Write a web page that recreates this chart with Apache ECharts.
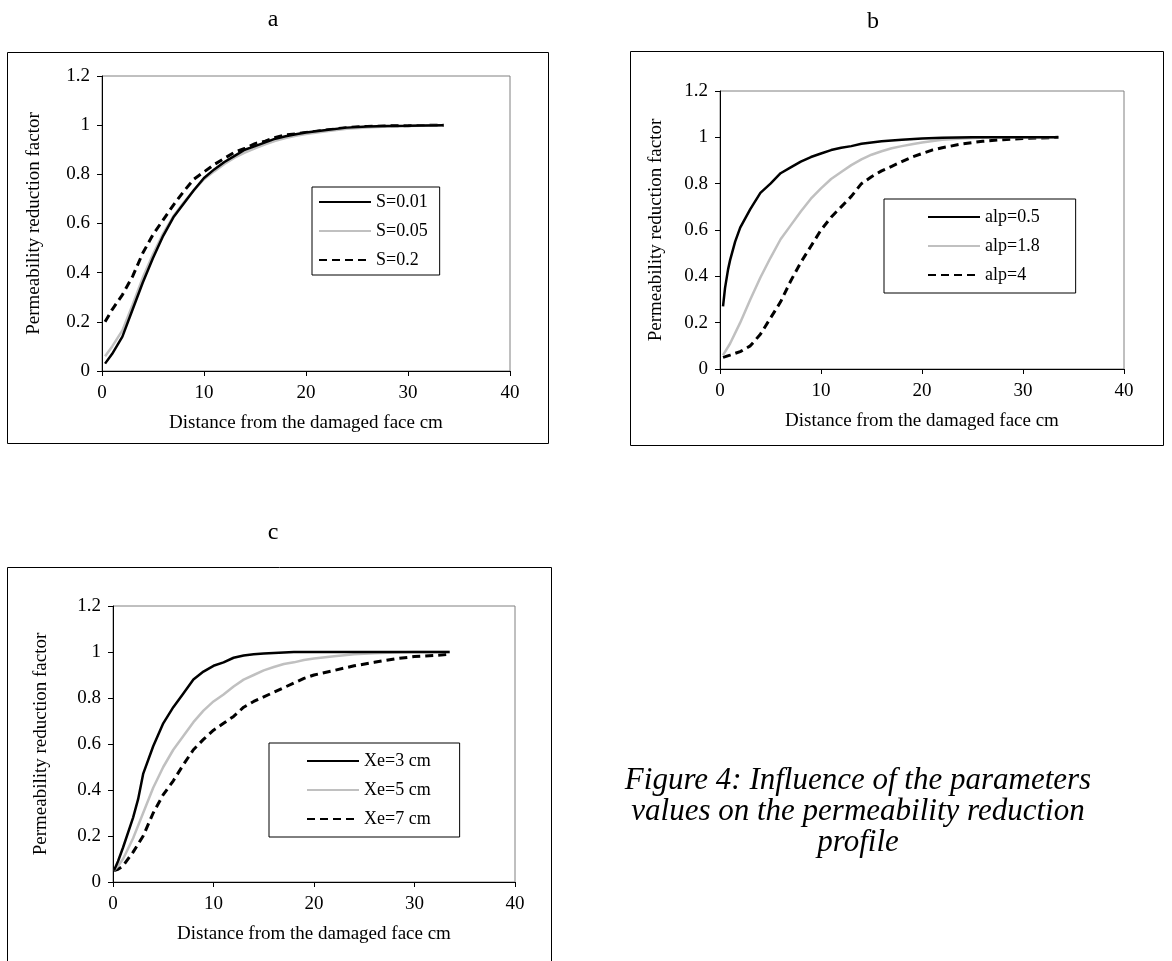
<!DOCTYPE html>
<html>
<head>
<meta charset="utf-8">
<script src="https://cdn.jsdelivr.net/npm/echarts@6/dist/echarts.min.js"></script>
<style>
  html, body { margin: 0; padding: 0; background: #ffffff; }
  #chart { width: 1172px; height: 961px; }
</style>
</head>
<body>
<div id="chart"></div>
<script>
// ---------- data ----------
const panelLetters = ['a', 'b', 'c'];
const xTitle = 'Distance from the damaged face cm';
const yTitle = 'Permeability reduction factor';
const caption = 'Figure 4: Influence of the parameters\nvalues on the permeability reduction\nprofile';

// panel a
const aNames = ['S=0.01', 'S=0.05', 'S=0.2'];
const aS001 = [[0.3,0.03],[1,0.07],[2,0.14],[3,0.25],[4,0.36],[5,0.46],[6,0.55],[7,0.625],[8,0.68],[9,0.735],[10,0.785],[11,0.82],[12,0.85],[13,0.875],[14,0.9],[15,0.915],[16,0.93],[17,0.945],[18,0.955],[19,0.963],[20,0.97],[22,0.98],[24,0.99],[26,0.995],[28,0.997],[30,0.998],[33.5,1.0]];
const aS005 = [[0.3,0.06],[1,0.1],[2,0.165],[3,0.27],[4,0.38],[5,0.475],[6,0.56],[7,0.63],[8,0.685],[9,0.735],[10,0.78],[11,0.812],[12,0.842],[13,0.868],[14,0.888],[15,0.906],[16,0.922],[17,0.936],[18,0.948],[19,0.957],[20,0.964],[22,0.975],[24,0.985],[26,0.99],[28,0.995],[30,0.997],[33.5,1.0]];
const aS02 = [[0.3,0.2],[1,0.25],[2,0.31],[3,0.385],[4,0.48],[5,0.555],[6,0.615],[7,0.675],[8,0.73],[9,0.78],[10,0.81],[11,0.84],[12,0.865],[13,0.89],[14,0.905],[15,0.925],[16,0.935],[17,0.95],[18,0.96],[19,0.965],[20,0.97],[22,0.98],[24,0.99],[26,0.995],[28,0.997],[30,0.998],[33.5,1.0]];

// panel b
const bNames = ['alp=0.5', 'alp=1.8', 'alp=4'];
const bAlp05 = [[0.3,0.27],[0.5,0.35],[0.8,0.43],[1,0.47],[1.5,0.55],[2,0.61],[3,0.69],[4,0.76],[5,0.8],[6,0.845],[7,0.87],[8,0.895],[9,0.915],[10,0.93],[11,0.945],[12,0.955],[13,0.962],[14,0.972],[15,0.978],[16,0.983],[18,0.99],[20,0.995],[22,0.998],[25,1.0],[30,1.0],[33.5,1.0]];
const bAlp18 = [[0.3,0.06],[1,0.11],[2,0.2],[3,0.3],[4,0.395],[5,0.48],[6,0.56],[7,0.62],[8,0.68],[9,0.735],[10,0.78],[11,0.82],[12,0.85],[13,0.88],[14,0.905],[15,0.925],[16,0.94],[17,0.953],[18,0.962],[19,0.97],[20,0.978],[22,0.99],[24,0.995],[27,1.0],[30,1.0],[33.5,1.0]];
const bAlp4 = [[0.3,0.05],[1,0.06],[2,0.075],[3,0.1],[4,0.15],[5,0.22],[6,0.29],[7,0.38],[8,0.46],[9,0.53],[10,0.6],[11,0.655],[12,0.7],[13,0.745],[14,0.8],[15,0.83],[16,0.855],[17,0.875],[18,0.895],[19,0.915],[20,0.93],[21,0.945],[22,0.955],[24,0.972],[26,0.983],[28,0.99],[30,0.995],[33.5,1.0]];

// panel c
const cNames = ['Xe=3 cm', 'Xe=5 cm', 'Xe=7 cm'];
const cXe3 = [[0.1,0.05],[0.5,0.09],[1,0.15],[2,0.28],[2.5,0.36],[3,0.47],[4,0.59],[5,0.69],[6,0.76],[7,0.82],[8,0.88],[9,0.915],[10,0.94],[11,0.955],[12,0.975],[13,0.985],[14,0.99],[15,0.993],[16,0.996],[18,1.0],[25,1.0],[33.5,1.0]];
const cXe5 = [[0.1,0.05],[0.5,0.07],[1,0.1],[2,0.19],[3,0.3],[4,0.41],[5,0.5],[6,0.575],[7,0.635],[8,0.695],[9,0.745],[10,0.785],[11,0.815],[12,0.85],[13,0.88],[14,0.9],[15,0.92],[16,0.935],[17,0.948],[18,0.955],[19,0.965],[20,0.972],[22,0.982],[24,0.99],[26,0.995],[28,0.998],[30,1.0],[33.5,1.0]];
const cXe7 = [[0.1,0.05],[0.5,0.055],[1,0.07],[2,0.13],[3,0.2],[4,0.3],[5,0.38],[6,0.44],[7,0.51],[8,0.575],[9,0.62],[10,0.66],[11,0.69],[12,0.72],[13,0.76],[14,0.785],[15,0.805],[16,0.825],[17,0.845],[18,0.865],[19,0.885],[20,0.9],[22,0.92],[24,0.94],[26,0.955],[28,0.97],[30,0.98],[32,0.985],[33.5,0.99]];

// ---------- chart ----------
const FONT = "'Liberation Serif', 'Times New Roman', serif";
const styles = [
  { color: '#000000', width: 2.5, type: 'solid' },
  { color: '#c0c0c0', width: 2.5, type: 'solid' },
  { color: '#000000', width: 3, type: [8, 5] }
];

const panels = [
  { grid: { left: 102, top: 76, width: 408, height: 295 }, yGap: 58,
    box: [7, 52, 541, 391], letter: [273, 20],
    legend: { left: 312, top: 187, padding: [6, 12, 6, 6] },
    names: aNames, data: [aS001, aS005, aS02] },
  { grid: { left: 720, top: 91, width: 404, height: 278 }, yGap: 54,
    box: [630, 51, 533, 394], letter: [873, 22],
    legend: { left: 884, top: 199, padding: [9, 36, 9, 43] },
    names: bNames, data: [bAlp05, bAlp18, bAlp4] },
  { grid: { left: 113, top: 606, width: 402, height: 276 }, yGap: 62,
    box: [7, 567, 544, 400], letter: [273, 533],
    legend: { left: 269, top: 743, padding: [9, 29, 9, 37] },
    names: cNames, data: [cXe3, cXe5, cXe7] }
];

const grids = [], xAxes = [], yAxes = [], legends = [], series = [], graphics = [];
panels.forEach((p, i) => {
  grids.push(Object.assign({ show: true, borderColor: '#808080', borderWidth: 1, backgroundColor: 'transparent' }, p.grid));
  xAxes.push({
    type: 'value', gridIndex: i, min: 0, max: 40, interval: 10,
    name: xTitle, nameLocation: 'middle', nameGap: 43,
    nameTextStyle: { fontFamily: FONT, fontSize: 19, color: '#000' },
    axisLine: { show: true, onZero: false, lineStyle: { color: '#000', width: 1 } },
    axisTick: { show: true, length: 5, lineStyle: { color: '#000' } },
    axisLabel: { fontFamily: FONT, fontSize: 19, color: '#000', margin: 13 },
    splitLine: { show: false }
  });
  yAxes.push({
    type: 'value', gridIndex: i, min: 0, max: 1.2, interval: 0.2,
    name: yTitle, nameLocation: 'middle', nameGap: p.yGap,
    nameTextStyle: { fontFamily: FONT, fontSize: 19, color: '#000' },
    axisLine: { show: true, lineStyle: { color: '#000', width: 1 } },
    axisTick: { show: true, length: 5, lineStyle: { color: '#000' } },
    axisLabel: { fontFamily: FONT, fontSize: 19, color: '#000', margin: 12 },
    splitLine: { show: false }
  });
  legends.push(Object.assign({
    orient: 'vertical', show: true, data: p.names,
    backgroundColor: '#fff', borderColor: '#000', borderWidth: 1, borderRadius: 0,
    itemWidth: 52, itemHeight: 14, itemGap: 11,
    itemStyle: { opacity: 0 },
    textStyle: { fontFamily: FONT, fontSize: 18, color: '#000' },
    selectedMode: false
  }, p.legend));
  p.data.forEach((d, k) => {
    series.push({
      type: 'line', name: p.names[k], xAxisIndex: i, yAxisIndex: i,
      data: d, showSymbol: false, symbol: 'none', smooth: false,
      lineStyle: { color: styles[k].color, width: styles[k].width, type: styles[k].type },
      itemStyle: { color: styles[k].color },
      emphasis: { disabled: true }, animation: false, z: 3 - k + 2
    });
  });
  graphics.push({
    type: 'rect', shape: { x: p.box[0] + 0.5, y: p.box[1] + 0.5, width: p.box[2], height: p.box[3] },
    style: { fill: 'none', stroke: '#000', lineWidth: 1 }, silent: true, z: 0
  });
  graphics.push({
    type: 'text', x: p.letter[0], y: p.letter[1],
    style: { text: panelLetters[i], font: '24px ' + FONT, fill: '#000', textAlign: 'center', textVerticalAlign: 'middle' },
    silent: true
  });
});
graphics.push({
  type: 'text', x: 858, y: 812,
  style: { text: caption, font: 'italic 31px ' + FONT, fill: '#000', textAlign: 'center', textVerticalAlign: 'middle', lineHeight: 31 },
  silent: true
});

const chart = echarts.init(document.getElementById('chart'), null, { renderer: 'canvas' });
chart.setOption({
  backgroundColor: '#ffffff',
  animation: false,
  grid: grids, xAxis: xAxes, yAxis: yAxes, legend: legends, series: series,
  graphic: graphics
});
</script>
</body>
</html>
